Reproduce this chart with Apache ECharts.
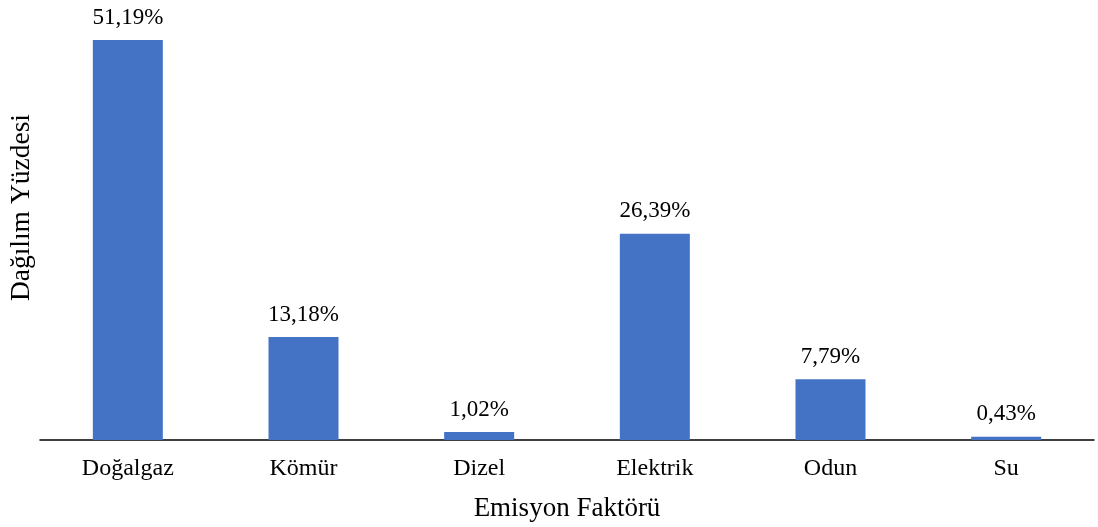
<!DOCTYPE html>
<html><head><meta charset="utf-8">
<script src="https://cdn.jsdelivr.net/npm/echarts@6/dist/echarts.min.js"></script>
<style>html,body{margin:0;padding:0;background:#fff}#c{width:1098px;height:527px}</style>
</head><body><div id="c"></div>
<script>
const categories = ['Doğalgaz','Kömür','Dizel','Elektrik','Odun','Su'];
const values = [51.19, 13.18, 1.02, 26.39, 7.79, 0.43];
const xTitle = 'Emisyon Faktörü';
const yTitle = 'Dağılım Yüzdesi';
const FONT = '"Liberation Serif","Times New Roman",serif';
const chart = echarts.init(document.getElementById('c'));
chart.setOption({
  animation:false,
  grid:{left:40,right:4,top:40,bottom:86,containLabel:false},
  xAxis:{type:'category',data:categories,
    axisLine:{lineStyle:{color:'#000',width:1.5}},axisTick:{show:false},
    axisLabel:{color:'#000',fontFamily:FONT,fontSize:24,margin:17},
    name:xTitle,nameLocation:'middle',nameGap:55,
    nameTextStyle:{color:'#000',fontFamily:FONT,fontSize:27}},
  yAxis:{type:'value',min:0,max:51.19,show:false},
  graphic:[{type:'text',left:8,top:114,rotation:Math.PI/2,
    style:{text:yTitle,fill:'#000',font:'27.5px '+FONT}}],
  series:[{type:'bar',data:values,barWidth:70,
    itemStyle:{color:'#4472C4'},
    label:{show:true,position:'top',distance:11,color:'#000',fontFamily:FONT,fontSize:23,
      formatter:p=>p.value.toFixed(2).replace('.',',')+'%'}}]
});
</script></body></html>
